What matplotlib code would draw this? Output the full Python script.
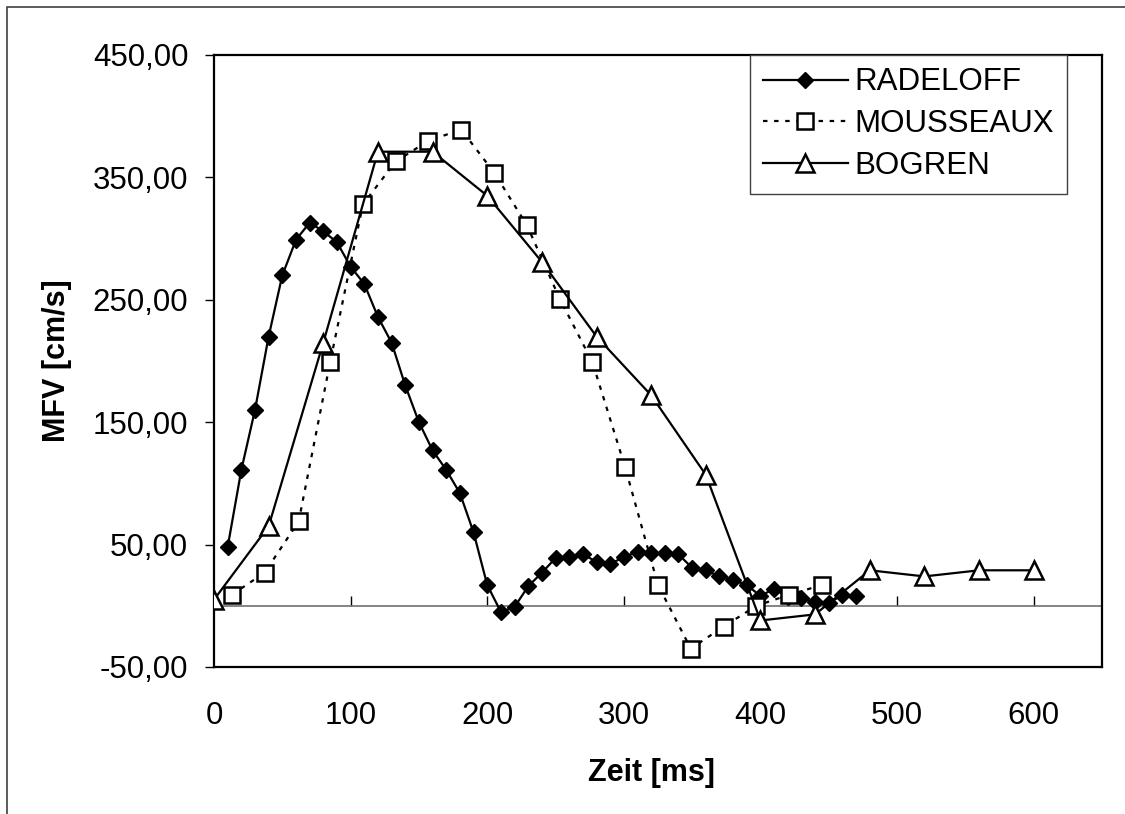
import matplotlib
matplotlib.use("Agg")
import matplotlib.pyplot as plt
from matplotlib.ticker import FuncFormatter
from matplotlib.patches import Rectangle

plt.rcParams['font.family'] = ['Liberation Sans', 'DejaVu Sans']

# ---- data ----
rad_x = [10, 20, 30, 40, 50, 60, 70, 80, 90, 100, 110, 120, 130, 140, 150, 160,
         170, 180, 190, 200, 210, 220, 230, 240, 250, 260, 270, 280, 290, 300,
         310, 320, 330, 340, 350, 360, 370, 380, 390, 400, 410, 420, 430, 440,
         450, 460, 470]
rad_y = [48, 111, 160, 220, 270, 299, 313, 306, 297, 277, 263, 236, 215, 180,
         150, 127, 111, 92, 60, 17, -5, -1, 16, 27, 39, 40, 42, 36, 34, 40,
         44, 43, 43, 42, 31, 29, 24, 21, 17, 8, 14, 7, 6, 3, 2, 9, 8]

mou_x = [13, 37, 62, 85, 109, 133, 157, 181, 205, 229, 253, 277, 301, 325,
         349, 373, 397, 421, 445]
mou_y = [9, 27, 69, 199, 328, 363, 380, 389, 354, 311, 251, 199, 113, 17,
         -35, -17, 0, 9, 17]

bog_x = [0, 40, 80, 120, 160, 200, 240, 280, 320, 360, 400, 440, 480, 520,
         560, 600]
bog_y = [5, 65, 215, 371, 371, 335, 281, 220, 172, 107, -12, -7, 29, 24,
         29, 29]

x_ticks = [0, 100, 200, 300, 400, 500, 600]
y_ticks = [-50, 50, 150, 250, 350, 450]

W, H = 1125, 814
FS = 22.5
fig = plt.figure(figsize=(W / 100, H / 100), dpi=100)

# outer chart border (left/top visible)
fig.patches.append(Rectangle((7 / W, -0.1), 1.2, 1 - 7 / H + 0.1,
                             transform=fig.transFigure, fill=False,
                             edgecolor='#404040', linewidth=1.2))

ax = fig.add_axes([214 / W, 1 - 667 / H, (1102 - 214) / W, (667 - 55) / H])

ax.plot(rad_x, rad_y, color='black', lw=1.6, marker='D', ms=8.3,
        mfc='black', mec='black', label='RADELOFF', zorder=3)
ax.plot(mou_x, mou_y, color='black', lw=1.6, ls=(0, (2, 3)), marker='s',
        ms=11, mfc='white', mec='black', mew=1.8, label='MOUSSEAUX', zorder=4)
ax.plot(bog_x, bog_y, color='black', lw=1.6, marker='^', ms=12.5,
        mfc='white', mec='black', mew=1.8, label='BOGREN', zorder=5)

ax.set_xlim(0, 650)
ax.set_ylim(-50, 450)
ax.set_yticks(y_ticks)
ax.yaxis.set_major_formatter(FuncFormatter(lambda v, p: f"{v:.2f}".replace('.', ',')))
ax.set_xticks(x_ticks)
ax.tick_params(axis='y', direction='out', length=6.5, width=1, labelsize=FS, pad=12)
ax.tick_params(axis='x', length=0, labelsize=FS, pad=24.5)

for s in ax.spines.values():
    s.set_linewidth(1.6)
    s.set_color('black')

# zero line with upward tick marks
sec = ax.secondary_xaxis(50 / 500)
sec.set_xticks(x_ticks[1:])
sec.tick_params(direction='in', length=7, width=1, labelbottom=False, color='black')
sec.spines['bottom'].set_color('#707070')
sec.spines['bottom'].set_linewidth(1.2)

ax.set_xlabel('Zeit [ms]', fontsize=22, fontweight='bold', va='center')
ax.xaxis.set_label_coords((651 - 214) / 888, (667 - 773) / 612)
ax.set_ylabel('MFV [cm/s]', fontsize=22, fontweight='bold', va='center')
ax.yaxis.set_label_coords((57 - 214) / 888, 0.5)

leg = ax.legend(loc='upper left', bbox_to_anchor=(750 / W, 1 - 55 / H),
                bbox_transform=fig.transFigure, borderaxespad=0,
                fontsize=FS, handlelength=2.75, handletextpad=0.2,
                labelspacing=0.38, borderpad=0.4, fancybox=False,
                framealpha=1, edgecolor='#404040')
leg.get_frame().set_linewidth(1.0)

fig.savefig('out.png', dpi=100)
